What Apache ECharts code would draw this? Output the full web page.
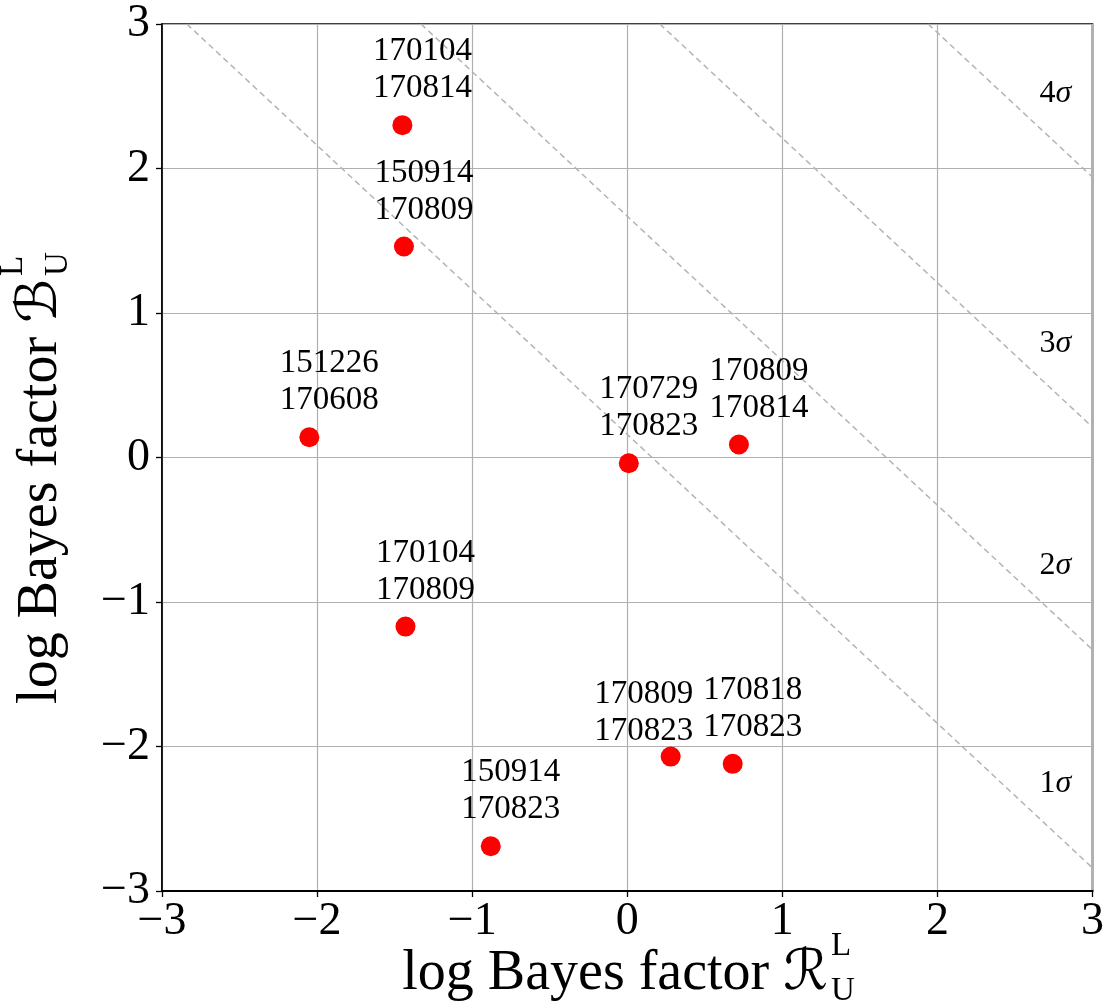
<!DOCTYPE html>
<html>
<head>
<meta charset="utf-8">
<title>log Bayes factors</title>
<script src="https://cdn.jsdelivr.net/npm/echarts@6/dist/echarts.min.js"></script>
<style>
  html, body { margin: 0; padding: 0; background: #ffffff; }
  #chart { width: 1107px; height: 1008px; }
</style>
</head>
<body>
<div id="chart"></div>
<script>
// Event pairs: log Bayes factor R (x) and log Bayes factor B (y)
const rValues = [-1.45, -1.44, -2.05, 0.01, 0.72, -1.43, 0.28, 0.68, -0.88];
const bValues = [2.30, 1.46, 0.14, -0.04, 0.09, -1.17, -2.07, -2.12, -2.69];
const pairNames = [
  '170104\n170814',
  '150914\n170809',
  '151226\n170608',
  '170729\n170823',
  '170809\n170814',
  '170104\n170809',
  '170809\n170823',
  '170818\n170823',
  '150914\n170823'
];

// Significance contours: lines of constant R + B
const sigmaNames = ['1', '2', '3', '4'];
const sigmaSums = [0.16, 1.67, 3.21, 4.94];

// Axis ticks
const axisMin = -3;
const axisMax = 3;
const axisStep = 1;

const SERIF = "'Liberation Serif', 'Times New Roman', 'DejaVu Serif', 'DejaVu Sans', serif";
const TICK_FONT = 46;
const LABEL_FONT = 33;
const TITLE_FONT = 56;
const SCRIPT_FONT = 33;

function fmtTick(v) {
  return v < 0 ? '\u2212' + Math.abs(v) : String(v);
}

// Text measuring for the composed axis titles
const measureCtx = document.createElement('canvas').getContext('2d');
function textWidth(str, size, style) {
  measureCtx.font = (style || 'normal') + ' ' + size + 'px ' + SERIF;
  return measureCtx.measureText(str).width;
}

// Title "log Bayes factor X^L_U", baseline at local y = 0, centred on local x = 0
function buildTitle(symbol) {
  const main = 'log Bayes factor ';
  const wMain = textWidth(main, TITLE_FONT);
  const wSym = textWidth(symbol, TITLE_FONT, 'italic');
  const wScript = Math.max(textWidth('L', SCRIPT_FONT), textWidth('U', SCRIPT_FONT));
  const gap = 3;
  const total = wMain + wSym + gap + wScript;
  const x0 = -total / 2;
  const k = 0.34;
  const part = (text, x, baseline, size, style) => ({
    type: 'text',
    x: x,
    y: baseline - k * size,
    style: {
      text: text,
      font: (style || 'normal') + ' ' + size + 'px ' + SERIF,
      fill: '#000000',
      align: 'left',
      verticalAlign: 'middle'
    }
  });
  return [
    part(main, x0, 0, TITLE_FONT),
    part(symbol, x0 + wMain, 0, TITLE_FONT, 'italic'),
    part('L', x0 + wMain + wSym + gap, -35, SCRIPT_FONT),
    part('U', x0 + wMain + wSym + gap, 10, SCRIPT_FONT)
  ];
}

const sigmaLineSeries = sigmaSums.map((s) => ({
  type: 'line',
  data: [[s - 3, 3], [3, s - 3]],
  symbol: 'none',
  silent: true,
  z: 1,
  lineStyle: { color: '#b4b4b4', width: 1.5, type: [6, 4] }
}));

const sigmaLabelX = 2.76;
const sigmaLabelSeries = {
  type: 'scatter',
  symbolSize: 0,
  silent: true,
  z: 2,
  itemStyle: { opacity: 1 },
  data: sigmaSums.map((s, i) => ({ value: [sigmaLabelX, s - sigmaLabelX + 0.34], name: sigmaNames[i] })),
  label: {
    show: true,
    position: 'inside',
    formatter: (p) => '{n|' + p.name + '}{s|\u03c3}',
    rich: {
      n: { fontFamily: SERIF, fontSize: 32, color: '#000' },
      s: { fontFamily: SERIF, fontSize: 32, fontStyle: 'italic', color: '#000' }
    }
  }
};

// Most names sit up and to the right of their point; one pair is nudged left
const defaultLabelShift = [20, 0];
const labelShift = { 6: [-27, 11] };

const pointSeries = {
  type: 'scatter',
  z: 3,
  symbol: 'circle',
  symbolSize: 20,
  itemStyle: { color: '#ff0000', opacity: 1 },
  data: rValues.map((r, i) => ({
    value: [r, bValues[i]],
    label: { offset: labelShift[i] || defaultLabelShift }
  })),
  label: {
    show: true,
    position: 'top',
    distance: 8,
    formatter: (p) => pairNames[p.dataIndex],
    fontFamily: SERIF,
    fontSize: LABEL_FONT,
    lineHeight: 37,
    color: '#000000',
    opacity: 1,
    align: 'center'
  }
};

const axisCommon = {
  type: 'value',
  min: axisMin,
  max: axisMax,
  interval: axisStep,
  axisLine: { show: true, onZero: false, lineStyle: { color: '#000', width: 1.6 } },
  axisTick: { show: true, inside: false, length: 6, lineStyle: { color: '#000', width: 1.3 } },
  splitLine: { show: true, lineStyle: { color: '#b0b0b0', width: 1.2 } },
  axisLabel: {
    formatter: fmtTick,
    fontFamily: SERIF,
    fontSize: TICK_FONT,
    color: '#000'
  }
};

const chart = echarts.init(document.getElementById('chart'), null, { renderer: 'canvas' });
chart.setOption({
  animation: false,
  backgroundColor: '#ffffff',
  grid: {
    left: 162, right: 11, top: 24, bottom: 117,
    show: true, borderColor: '#000', borderWidth: 1.6, backgroundColor: 'transparent'
  },
  xAxis: Object.assign({}, axisCommon, {
    axisLine: { show: true, onZero: false, lineStyle: { color: '#000', width: 2.2 } },
    axisLabel: Object.assign({}, axisCommon.axisLabel, { margin: 8 })
  }),
  yAxis: Object.assign({}, axisCommon, {
    axisLabel: Object.assign({}, axisCommon.axisLabel, { margin: 12 })
  }),
  series: sigmaLineSeries.concat([sigmaLabelSeries, pointSeries]),
  graphic: [
    {
      type: 'group',
      x: 628.5,
      y: 993,
      children: buildTitle('\u211b')
    },
    {
      type: 'group',
      x: 60,
      y: 478,
      rotation: Math.PI / 2,
      children: buildTitle('\u212c')
    }
  ]
});
</script>
</body>
</html>
